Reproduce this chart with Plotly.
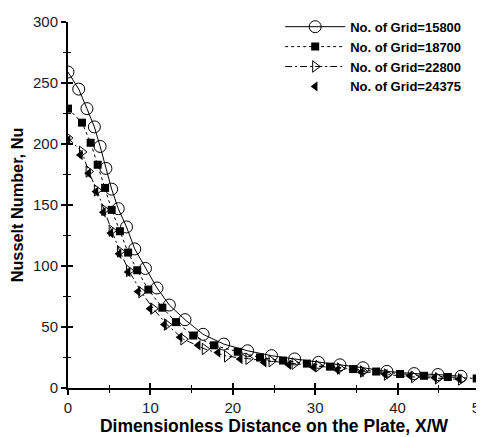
import plotly.graph_objects as go

# Data
x_15800 = [0, 1.3, 2.3, 3.2, 3.9, 4.6, 5.3, 6.1, 7.1, 8.1, 9.4, 10.8, 12.3, 14.2, 16.4, 18.9,
           21.8, 24.7, 27.5, 30.4, 33.0, 35.8, 38.7, 42.0, 44.9, 47.7]
y_15800 = [259, 245, 229, 214, 198, 180, 163, 147, 132, 114, 98, 82, 68, 56, 44, 36,
           30.5, 26.5, 23.8, 21, 19, 16.6, 13.6, 11.8, 11, 9.6]

x_18700 = [0, 1.7, 2.75, 3.6, 4.5, 5.3, 6.3, 7.3, 8.4, 9.75, 11.45, 13.1, 15.2, 17.7, 20.6,
           23.3, 26.1, 29.0, 31.8, 34.6, 37.4, 40.3, 43.2, 46.1, 49.6]
y_18700 = [229, 217.5, 201, 183, 164, 146, 128.5, 111, 96.5, 80.7, 65.8, 54, 43, 35, 29.7,
           25, 22.5, 20, 17.5, 15.5, 13.5, 11.5, 10, 9, 7.8]

x_22800 = [0, 1.7, 2.5, 3.5, 4.4, 5.3, 6.3, 7.4, 8.9, 10.35, 12.0, 14.0, 16.6, 19.3, 21.9,
           24.7, 27.5, 30.4, 33.0, 35.8, 38.7, 42.0, 44.9, 47.7]
y_22800 = [205, 193.5, 177.5, 162, 146, 129, 112, 96, 78.6, 65, 52, 40, 32, 26, 24,
           22, 20, 18, 16, 13.5, 11, 9, 8, 7]

x_24375 = [0, 1.5, 2.5, 3.4, 4.3, 5.2, 6.2, 7.3, 8.5, 9.95, 11.7, 13.6, 15.8, 18.2, 20.9,
           23.8, 26.8, 29.8, 32.7, 35.6, 38.5, 41.5, 44.5, 47.5]
y_24375 = [203, 191, 176, 161, 144, 127, 110, 95, 79, 65, 52, 41.7, 35, 29, 23.8,
           21, 19, 17, 15, 13, 11.5, 10, 8.5, 7.5]

x_ticks = [0, 10, 20, 30, 40, 50]
y_ticks = [0, 50, 100, 150, 200, 250, 300]
x_minor = [5, 15, 25, 35, 45]
y_minor = [25, 75, 125, 175, 225, 275]

FONT = "Liberation Sans, Arial, sans-serif"

fig = go.Figure()
fig.add_trace(go.Scatter(
    x=x_15800, y=y_15800, name="No. of Grid=15800", mode="lines+markers",
    line=dict(color="black", width=1),
    marker=dict(symbol="circle-open", size=12, color="black", line=dict(width=1))))
fig.add_trace(go.Scatter(
    x=x_18700, y=y_18700, name="No. of Grid=18700", mode="lines+markers",
    line=dict(color="black", width=1, dash="3px,3px"),
    marker=dict(symbol="square", size=8, color="black")))
fig.add_trace(go.Scatter(
    x=x_22800, y=y_22800, name="No. of Grid=22800", mode="lines+markers",
    line=dict(color="black", width=1, dash="7px,3px,2px,3px"),
    marker=dict(symbol="triangle-right-open", size=10, color="black", line=dict(width=1))))
fig.add_trace(go.Scatter(
    x=x_24375, y=y_24375, name="No. of Grid=24375", mode="markers",
    marker=dict(symbol="triangle-left", size=9, color="black")))

axis_common = dict(showline=True, linecolor="black", linewidth=2, showgrid=False,
                   zeroline=False, ticks="outside", ticklen=5, tickwidth=2, tickcolor="black",
                   automargin=False, ticklabeloverflow="allow",
                   tickfont=dict(family=FONT, size=15, color="#1a1a2a"))

# page body has an 8px default margin, so the figure is sized to fit the window
fig.update_layout(
    width=476, height=429,
    margin=dict(l=60, r=4, t=6, b=49),
    paper_bgcolor="white", plot_bgcolor="white",
    showlegend=True,
    legend=dict(x=0.515, y=1.028, xanchor="left", yanchor="top",
                bgcolor="rgba(0,0,0,0)", tracegroupgap=0, itemwidth=60,
                font=dict(family=FONT, size=13, color="black", weight="bold")),
    xaxis=dict(range=[0, 50], tickvals=x_ticks,
               minor=dict(tickvals=x_minor, ticks="outside", ticklen=3,
                          tickwidth=1, tickcolor="black"),
               title=dict(text="Dimensionless Distance on the Plate, X/W", standoff=2,
                          font=dict(family=FONT, size=17.5, color="black", weight="bold")),
               **axis_common),
    yaxis=dict(range=[0, 300], tickvals=y_ticks,
               minor=dict(tickvals=y_minor, ticks="outside", ticklen=3,
                          tickwidth=1, tickcolor="black"),
               title=dict(text="Nusselt Number, Nu", standoff=6,
                          font=dict(family=FONT, size=16.3, color="black", weight="bold")),
               **axis_common),
    xaxis2=dict(range=[0, 50], overlaying="x", side="bottom", anchor="y", showline=False,
                showgrid=False, zeroline=False, ticks="inside", ticklen=5, tickwidth=2,
                tickcolor="black", tickvals=x_ticks, showticklabels=False, automargin=False,
                minor=dict(tickvals=x_minor, ticks="inside", ticklen=3,
                           tickwidth=1, tickcolor="black")),
    yaxis2=dict(range=[0, 300], overlaying="y", side="left", anchor="x", showline=False,
                showgrid=False, zeroline=False, ticks="inside", ticklen=5, tickwidth=2,
                tickcolor="black", tickvals=y_ticks, showticklabels=False, automargin=False,
                minor=dict(tickvals=y_minor, ticks="inside", ticklen=3,
                           tickwidth=1, tickcolor="black")),
)
# invisible helper trace to activate the overlay axes (inside tick marks)
fig.add_trace(go.Scatter(x=[None], y=[None], xaxis="x2", yaxis="y2", showlegend=False,
                         hoverinfo="skip"))

fig.write_html("out.html")
